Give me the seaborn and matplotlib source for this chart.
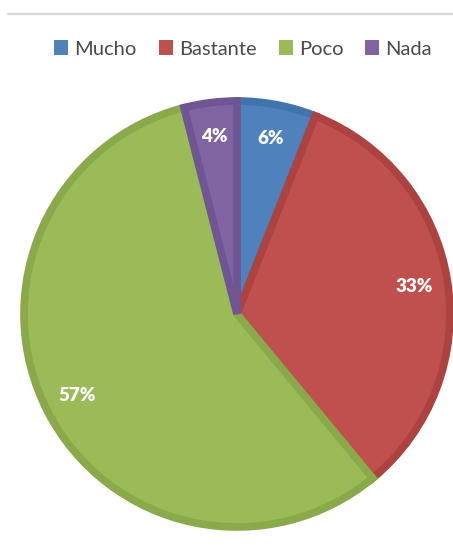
import matplotlib
matplotlib.use("Agg")
import matplotlib.pyplot as plt
from matplotlib.lines import Line2D
from matplotlib.patches import Patch
import seaborn as sns

# Survey answers and their shares (%)
categories = ["Mucho", "Bastante", "Poco", "Nada"]
shares = [6, 33, 57, 4]
fill_hex = ["#4F81BD", "#C0504D", "#9BBB59", "#8064A2"]
edge_hex = ["#4173AE", "#AD4340", "#89A94A", "#6F5593"]

sns.set_theme(style="white")
plt.rcParams["font.family"] = ["Lato", "DejaVu Sans"]

W, H = 453, 550
fig = plt.figure(figsize=(W / 100, H / 100), dpi=100)
fig.patch.set_facecolor("white")

# thin rule across the top
fig.add_artist(Line2D([8 / W, 1.0], [1 - 14 / H, 1 - 14 / H],
                      color="#d9d9d9", lw=1.6, transform=fig.transFigure))

cx, cy, r = 237, 314, 213
ax = fig.add_axes([(cx - r) / W, (H - cy - r) / H, 2 * r / W, 2 * r / H])

colors = sns.color_palette(fill_hex)
wedges, texts, autotexts = ax.pie(
    shares, colors=colors, startangle=90, counterclock=False,
    autopct=lambda p: f"{p:.0f}%", pctdistance=0.84, radius=1,
    textprops=dict(color="white", fontsize=13.5, fontweight="heavy"),
)
for w, ec in zip(wedges, edge_hex):
    w.set_edgecolor(ec)
    w.set_linewidth(5.5)
    w.set_clip_path(w)
ax.set_xlim(-1, 1)
ax.set_ylim(-1, 1)
ax.set_aspect("equal")
ax.axis("off")

handles = [Patch(facecolor=c, edgecolor="none") for c in colors]
fig.legend(handles, categories, loc="center", bbox_to_anchor=(243 / W, 1 - 49 / H),
           ncol=4, frameon=False, fontsize=14.5, handlelength=0.7, handleheight=0.7,
           handletextpad=0.3, columnspacing=1.1, labelcolor="#4a4a4a")

fig.savefig("out.png", dpi=100, facecolor="white")
